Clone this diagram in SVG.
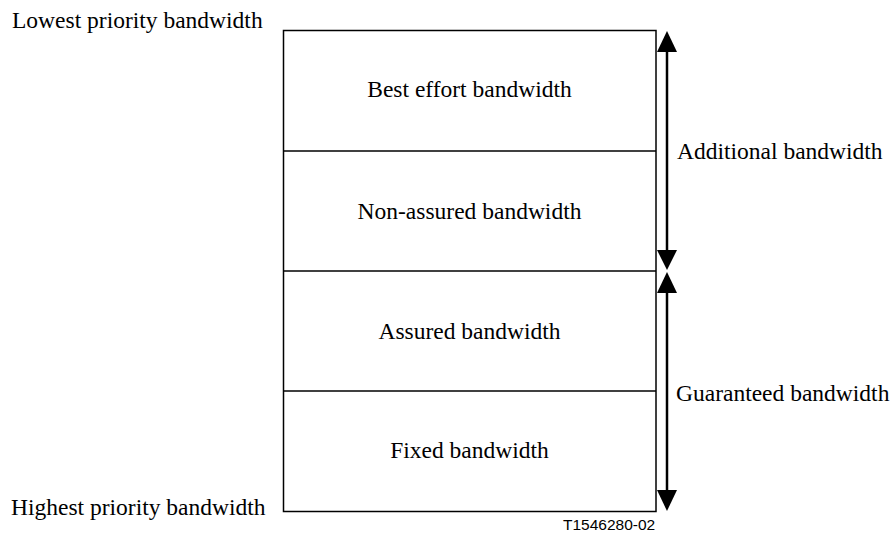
<svg xmlns="http://www.w3.org/2000/svg" width="894" height="534" viewBox="0 0 894 534">
<style>
.t{font-family:"Liberation Serif","Times New Roman",serif;font-size:23.5px;fill:#000}
.c{text-anchor:middle}
.s{font-family:"Liberation Sans",Arial,sans-serif;font-size:15.5px;fill:#000}
.ln{stroke:#000;stroke-width:1.5;fill:none}
.ar{stroke:#000;stroke-width:2.5;fill:none}
.hd{fill:#000;stroke:none}
</style>
<rect width="894" height="534" fill="#fff"/>
<g id="box" class="ln"><rect x="283.5" y="30.5" width="372.5" height="481"/></g>
<g id="best-effort"><line class="ln" x1="283.5" y1="151" x2="656" y2="151"/><text class="t c" x="469.5" y="96.5">Best effort bandwidth</text></g>
<g id="non-assured"><line class="ln" x1="283.5" y1="271" x2="656" y2="271"/><text class="t c" x="469.5" y="219">Non-assured bandwidth</text></g>
<g id="assured"><line class="ln" x1="283.5" y1="391" x2="656" y2="391"/><text class="t c" x="469.5" y="339">Assured bandwidth</text></g>
<g id="fixed"><text class="t c" x="469.5" y="458">Fixed bandwidth</text></g>
<g id="lowest"><text class="t" x="12" y="28">Lowest priority bandwidth</text></g>
<g id="highest"><text class="t" x="11" y="515">Highest priority bandwidth</text></g>
<g id="additional"><text class="t" x="677" y="159">Additional bandwidth</text></g>
<g id="guaranteed"><text class="t" x="676" y="400.5">Guaranteed bandwidth</text></g>
<g id="connectors">
<line class="ar" x1="667" y1="50" x2="667" y2="252"/>
<polygon class="hd" points="667,31 677,52 657,52"/>
<polygon class="hd" points="667,270 677,250 657,250"/>
<line class="ar" x1="667" y1="291" x2="667" y2="492"/>
<polygon class="hd" points="667,272 677,293 657,293"/>
<polygon class="hd" points="667,511 677,490 657,490"/>
</g>
<g id="ref"><text class="s" x="563" y="530">T1546280-02</text></g>
</svg>
